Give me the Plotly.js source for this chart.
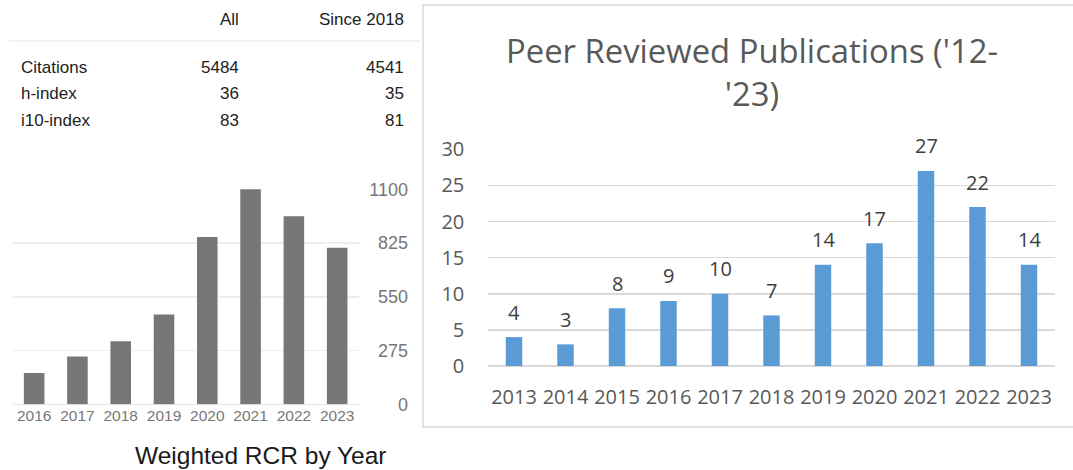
<!DOCTYPE html>
<html>
<head>
<meta charset="utf-8">
<script src="https://cdn.plot.ly/plotly-3.0.1.min.js"></script>
<style>html,body{margin:0;padding:0;background:#fff;}#chart{width:1073px;height:470px;}</style>
</head>
<body>
<div id="chart"></div>
<script>
// ---- data ----
const tableHeaders = ['All', 'Since 2018'];
const tableRows = ['Citations', 'h-index', 'i10-index'];
const tableAll = [5484, 36, 83];
const tableSince = [4541, 35, 81];

const rcrYears = ['2016', '2017', '2018', '2019', '2020', '2021', '2022', '2023'];
const rcrValues = [160, 244, 322, 460, 856, 1100, 962, 801];
const rcrTicks = [0, 275, 550, 825, 1100];
const rcrTitle = 'Weighted RCR by Year';

const pubYears = ['2013', '2014', '2015', '2016', '2017', '2018', '2019', '2020', '2021', '2022', '2023'];
const pubCounts = [4, 3, 8, 9, 10, 7, 14, 17, 27, 22, 14];
const pubTitle = "Peer Reviewed Publications ('12-<br>'23)";

// ---- helpers (pixel -> paper) ----
const W = 1073, H = 470;
const px = x => x / W;
const py = y => 1 - y / H;

const arial = 'Liberation Sans, Arial, sans-serif';
const calib = 'Open Sans, Noto Sans, sans-serif';

const traces = [
  {
    type: 'bar', x: rcrYears, y: rcrValues, xaxis: 'x', yaxis: 'y',
    width: 0.475, marker: {color: '#777777'}, hoverinfo: 'none'
  },
  {
    type: 'bar', x: pubYears, y: pubCounts, xaxis: 'x2', yaxis: 'y2',
    width: 0.32, marker: {color: '#5b9bd5'}, hoverinfo: 'none'
  }
];

const annotations = [];
// table header
tableHeaders.forEach((h, i) => {
  annotations.push({xref: 'paper', yref: 'paper', x: px(i === 0 ? 241 : 406), y: py(19),
    xanchor: 'right', yanchor: 'middle', text: h, showarrow: false,
    font: {family: arial, size: 17, color: '#222'}});
});
// table rows
const rowY = [67, 94, 121];
tableRows.forEach((r, i) => {
  annotations.push({xref: 'paper', yref: 'paper', x: px(19), y: py(rowY[i]), xanchor: 'left', yanchor: 'middle',
    text: r, showarrow: false, font: {family: arial, size: 17, color: '#222'}});
  annotations.push({xref: 'paper', yref: 'paper', x: px(241), y: py(rowY[i]), xanchor: 'right', yanchor: 'middle',
    text: String(tableAll[i]), showarrow: false, font: {family: arial, size: 17, color: '#222'}});
  annotations.push({xref: 'paper', yref: 'paper', x: px(406), y: py(rowY[i]), xanchor: 'right', yanchor: 'middle',
    text: String(tableSince[i]), showarrow: false, font: {family: arial, size: 17, color: '#222'}});
});
// left chart title
annotations.push({xref: 'paper', yref: 'paper', x: px(261), y: py(455), xanchor: 'center', yanchor: 'middle',
  text: rcrTitle, showarrow: false, font: {family: arial, size: 24.5, color: '#1a1a1a'}});
// data labels right chart (category index on the x2 axis)
pubYears.forEach((yr, i) => {
  annotations.push({xref: 'x2', yref: 'y2', x: i, y: pubCounts[i], xanchor: 'center', yanchor: 'middle',
    yshift: 25, text: String(pubCounts[i]), showarrow: false, font: {family: calib, size: 20, color: '#404040'}});
});

const shapes = [
  // table header rule
  {type: 'line', xref: 'paper', yref: 'paper', x0: px(9), x1: px(420), y0: py(41), y1: py(41),
    line: {color: '#ececec', width: 1.5}},
  // right panel border
  {type: 'rect', xref: 'paper', yref: 'paper', x0: px(423), x1: px(1080), y0: py(5), y1: py(427),
    line: {color: '#d9d9d9', width: 1.5}, fillcolor: 'rgba(0,0,0,0)'}
];

const layout = {
  width: W, height: H, autosize: false,
  margin: {l: 0, r: 0, t: 0, b: 0},
  paper_bgcolor: '#ffffff', plot_bgcolor: 'rgba(0,0,0,0)',
  showlegend: false,
  title: {text: pubTitle, x: px(752), xanchor: 'center', xref: 'paper', y: py(63), yref: 'paper', yanchor: 'middle',
    font: {family: calib, size: 32.8, color: '#595959'}},
  xaxis: {
    domain: [px(12.5), px(358.8)], anchor: 'y', type: 'category', range: [-0.5, 7.5],
    showgrid: false, showline: false, zeroline: false, ticks: '', fixedrange: true,
    tickfont: {family: arial, size: 15.5, color: '#777777'}
  },
  yaxis: {
    domain: [py(404.3), py(189.1)], anchor: 'free', position: px(408), side: 'left', range: [0, 1101],
    tickvals: rcrTicks, ticks: '', showline: false,
    showgrid: true, gridcolor: '#eeeeee', gridwidth: 1.5,
    zeroline: true, zerolinecolor: '#e2e2e2', zerolinewidth: 1.5,
    tickfont: {family: arial, size: 18, color: '#777777'}
  },
  xaxis2: {
    domain: [px(488.25), px(1054.75)], anchor: 'y2', type: 'category', range: [-0.5, 10.5],
    showgrid: false, showline: false, zeroline: false,
    ticks: 'outside', ticklen: 13, tickcolor: 'rgba(0,0,0,0)',
    tickfont: {family: calib, size: 20, color: '#595959'}
  },
  yaxis2: {
    domain: [py(366), py(149.3)], anchor: 'x2', range: [0, 30], dtick: 5,
    showline: false, showgrid: true, gridcolor: '#d9d9d9', gridwidth: 1.5,
    zeroline: true, zerolinecolor: '#d9d9d9', zerolinewidth: 1.5,
    ticks: 'outside', ticklen: 19, tickcolor: 'rgba(0,0,0,0)',
    tickfont: {family: calib, size: 20, color: '#595959'}
  },
  annotations: annotations,
  shapes: shapes
};

Plotly.newPlot('chart', traces, layout, {displayModeBar: false, staticPlot: true});
</script>
</body>
</html>
